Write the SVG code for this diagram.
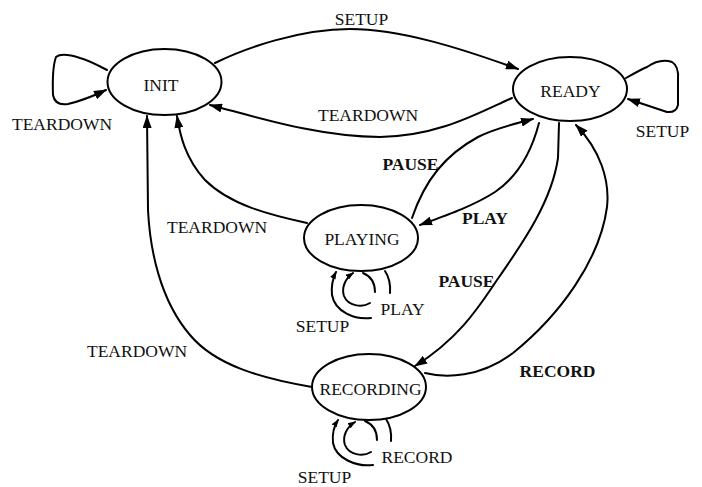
<svg xmlns="http://www.w3.org/2000/svg" width="702" height="487" viewBox="0 0 702 487">
<style>
.st{fill:#fff;stroke:#000;stroke-width:2}
.c{fill:none;stroke:#000;stroke-width:2;stroke-linejoin:round;stroke-linecap:round}
.a{marker-end:url(#ah)}
.s{marker-end:url(#ahs)}
text{font-family:"Liberation Serif","Times New Roman",serif;font-size:17.5px;fill:#111;text-anchor:middle}
.b{font-weight:bold}
</style>
<defs>
<marker id="ah" viewBox="0 0 13 9" refX="12" refY="4.5" markerWidth="13" markerHeight="9" orient="auto" markerUnits="userSpaceOnUse"><path d="M0,0 L13,4.5 L0,9 z" fill="#000"/></marker>
<marker id="ahs" viewBox="0 0 8 6" refX="7" refY="3" markerWidth="8" markerHeight="6" orient="auto" markerUnits="userSpaceOnUse"><path d="M0,0 L8,3 L0,6 z" fill="#000"/></marker>
</defs>
<g id="connectors">
<path class="c a" d="M107 70 Q88 60 80 58 Q62 52 56 57 Q52 68 53 95 Q55 106 68 104 Q85 100 106 90"/>
<path class="c a" d="M215 63 C245 48 300 29 350 29 C400 29 460 48 518 69"/>
<path class="c a" d="M512 98 C480 112 440 136 380 137 C320 137 260 118 210 105"/>
<path class="c a" d="M412 218 C425 180 445 155 478 137 C495 128 515 124 533 119"/>
<path class="c a" d="M539 123 C532 150 520 175 495 192 C475 205 450 214 420 225"/>
<path class="c a" d="M559 123 L558 158 C552 200 525 240 497 280 C480 305 460 338 415 366"/>
<path class="c a" d="M425 373 C445 378 480 378 513 353 C560 315 600 260 607 207 C610 180 600 150 576 125"/>
<path class="c a" d="M626 78 Q640 70 647 67 Q660 58 672 62 Q679 66 678 80 L678 105 Q676 113 667 112 Q655 108 628 99"/>
<path class="c a" d="M307 223 C270 215 230 205 205 180 C185 158 180 135 177 116"/>
<path class="c a" d="M312 387 C260 378 215 365 190 335 C160 300 150 250 148 210 L147 116"/>
<path class="c" d="M385 271 Q391 280 390 293"/>
<path class="c s" d="M371 318 C355 320 335 312 332 295 C331 285 333 278 336 272"/>
<path class="c" d="M363 273 Q375 278 375 292"/>
<path class="c s" d="M370 303 C362 308 348 306 344 296 C341 287 346 278 353 273"/>
<path class="c" d="M386 419 Q392 428 391 441"/>
<path class="c s" d="M373 465 C357 467 336 459 333 443 C332 433 334 426 338 420"/>
<path class="c" d="M365 421 Q377 426 377 440"/>
<path class="c s" d="M371 452 C363 457 349 455 345 445 C342 436 347 427 355 422"/>
</g>
<g id="INIT"><ellipse class="st" cx="164.5" cy="82" rx="57" ry="33"/><text x="161" y="91">INIT</text></g>
<g id="READY"><ellipse class="st" cx="570" cy="89" rx="57" ry="32"/><text x="570.5" y="97">READY</text></g>
<g id="PLAYING"><ellipse class="st" cx="361" cy="238" rx="57" ry="33"/><text x="362" y="245">PLAYING</text></g>
<g id="RECORDING"><ellipse class="st" cx="369" cy="387" rx="57" ry="33"/><text x="370.5" y="395">RECORDING</text></g>
<g id="labels">
<text x="62" y="130">TEARDOWN</text>
<text x="361.5" y="25">SETUP</text>
<text x="368" y="121">TEARDOWN</text>
<text x="662.5" y="137">SETUP</text>
<text class="b" x="410.5" y="170">PAUSE</text>
<text class="b" x="485" y="224">PLAY</text>
<text class="b" x="466.5" y="287">PAUSE</text>
<text x="217" y="233">TEARDOWN</text>
<text x="322.5" y="332">SETUP</text>
<text x="402.5" y="315">PLAY</text>
<text x="137" y="357">TEARDOWN</text>
<text class="b" x="557.5" y="377">RECORD</text>
<text x="417" y="463">RECORD</text>
<text x="324.5" y="483">SETUP</text>
</g>
</svg>
